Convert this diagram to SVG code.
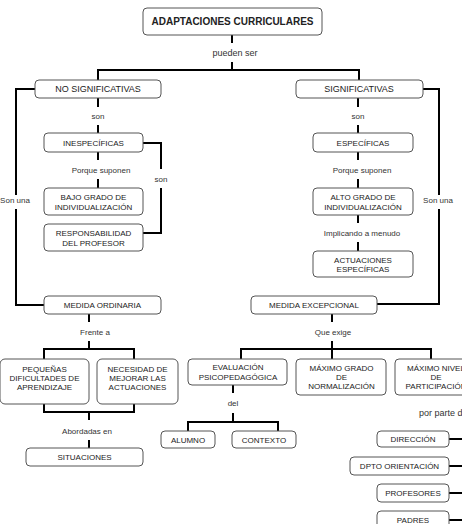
<svg xmlns="http://www.w3.org/2000/svg" width="462" height="524" viewBox="0 0 462 524">
<style>
.b{fill:#fff;stroke:#555;stroke-width:1}
.t{font-family:"Liberation Sans",Arial,sans-serif;font-size:8px;fill:#222;text-anchor:middle;dominant-baseline:central}
.l{font-family:"Liberation Sans",Arial,sans-serif;font-size:8px;fill:#333;text-anchor:middle;dominant-baseline:central}
.c{fill:none;stroke:#000;stroke-width:2}
</style>
<rect width="462" height="524" fill="#fff"/>
<g id="connectors" class="c">
<path d="M232 35V43M232 62V70M98 80V70H359V80"/>
<path d="M35 89H16V195M16 209V305H44"/>
<path d="M423 89H439V195M439 209V304H377"/>
<path d="M98 98V107M98 125V133M358 98V107M358 125V133"/>
<path d="M98 152V160M98 179V188"/>
<path d="M143 143H161V169M161 188V233H143"/>
<path d="M358 152V160M358 179V188M358 215V223M358 242V251"/>
<path d="M89 314V322M89 341V349M44 359V349H134V359"/>
<path d="M44 404V412H134V404M89 412V420M89 440V448"/>
<path d="M332 314V322M332 341V359M241 359V349H431V359"/>
<path d="M233 385V393M233 413V422M188 431V422H278V431"/>
<path d="M449 439H462M449 466H462M449 493H462M449 520H462"/>
</g>
<g id="labels">
<text class="l" x="235" y="53" style="font-size:9px">pueden ser</text>
<text class="l" x="98" y="116">son</text>
<text class="l" x="358" y="116">son</text>
<text class="l" x="161" y="179">son</text>
<text class="l" x="15" y="200">Son una</text>
<text class="l" x="438" y="200">Son una</text>
<text class="l" x="101" y="170">Porque suponen</text>
<text class="l" x="362" y="170">Porque suponen</text>
<text class="l" x="362" y="233">Implicando a menudo</text>
<text class="l" x="95" y="332">Frente a</text>
<text class="l" x="333" y="332">Que exige</text>
<text class="l" x="87" y="431">Abordadas en</text>
<text class="l" x="233" y="403">del</text>
<text class="l" x="419" y="413" style="font-size:9px;text-anchor:start">por parte de</text>
</g>
<g id="n-adaptaciones"><rect class="b" x="143" y="8" width="179" height="27" rx="4"/><text class="t" x="232.5" y="21.5" style="font-size:10px;font-weight:bold">ADAPTACIONES CURRICULARES</text></g>
<g id="n-nosig"><rect class="b" x="35" y="80" width="126" height="18" rx="4"/><text class="t" x="98" y="89" style="font-size:9px">NO SIGNIFICATIVAS</text></g>
<g id="n-sig"><rect class="b" x="296" y="80" width="127" height="18" rx="4"/><text class="t" x="359" y="89" style="font-size:9px">SIGNIFICATIVAS</text></g>
<g id="n-inesp"><rect class="b" x="44" y="133" width="99" height="19" rx="4"/><text class="t" x="93.5" y="143">INESPECÍFICAS</text></g>
<g id="n-bajo"><rect class="b" x="44" y="188" width="99" height="27" rx="4"/><text class="t" x="93.5" y="197">BAJO GRADO DE</text><text class="t" x="93.5" y="207">INDIVIDUALIZACIÓN</text></g>
<g id="n-resp"><rect class="b" x="44" y="224" width="99" height="27" rx="4"/><text class="t" x="93.5" y="233">RESPONSABILIDAD</text><text class="t" x="93.5" y="243">DEL PROFESOR</text></g>
<g id="n-esp"><rect class="b" x="313" y="133" width="100" height="19" rx="4"/><text class="t" x="363" y="143">ESPECÍFICAS</text></g>
<g id="n-alto"><rect class="b" x="313" y="188" width="100" height="27" rx="4"/><text class="t" x="363" y="197">ALTO GRADO DE</text><text class="t" x="363" y="207">INDIVIDUALIZACIÓN</text></g>
<g id="n-actesp"><rect class="b" x="313" y="251" width="100" height="26" rx="4"/><text class="t" x="363" y="260">ACTUACIONES</text><text class="t" x="363" y="269">ESPECÍFICAS</text></g>
<g id="n-ordinaria"><rect class="b" x="44" y="296" width="117" height="18" rx="4"/><text class="t" x="102.5" y="305">MEDIDA ORDINARIA</text></g>
<g id="n-excepcional"><rect class="b" x="251" y="296" width="126" height="18" rx="4"/><text class="t" x="314" y="305">MEDIDA EXCEPCIONAL</text></g>
<g id="n-pequenas"><rect class="b" x="0" y="359" width="89" height="45" rx="5"/><text class="t" x="44.5" y="369.5">PEQUEÑAS</text><text class="t" x="44.5" y="378.5">DIFICULTADES DE</text><text class="t" x="44.5" y="387.5">APRENDIZAJE</text></g>
<g id="n-necesidad"><rect class="b" x="97" y="359" width="81" height="45" rx="5"/><text class="t" x="137.5" y="369.5">NECESIDAD DE</text><text class="t" x="137.5" y="378.5">MEJORAR LAS</text><text class="t" x="137.5" y="387.5">ACTUACIONES</text></g>
<g id="n-situaciones"><rect class="b" x="26" y="448" width="117" height="18" rx="4"/><text class="t" x="84.5" y="457.5">SITUACIONES</text></g>
<g id="n-evaluacion"><rect class="b" x="188" y="359" width="99" height="26" rx="4"/><text class="t" x="238" y="367.5">EVALUACIÓN</text><text class="t" x="238" y="377">PSICOPEDAGÓGICA</text></g>
<g id="n-maxgrado"><rect class="b" x="296" y="359" width="90" height="36" rx="4"/><text class="t" x="341.5" y="368">MÁXIMO GRADO</text><text class="t" x="341.5" y="377">DE</text><text class="t" x="341.5" y="386">NORMALIZACIÓN</text></g>
<g id="n-maxnivel"><rect class="b" x="395" y="359" width="90" height="36" rx="4"/><text class="t" x="436" y="368">MÁXIMO NIVEL</text><text class="t" x="436" y="377">DE</text><text class="t" x="436" y="386">PARTICIPACIÓN</text></g>
<g id="n-alumno"><rect class="b" x="161" y="431" width="54" height="17" rx="4"/><text class="t" x="188" y="440">ALUMNO</text></g>
<g id="n-contexto"><rect class="b" x="232" y="431" width="64" height="17" rx="4"/><text class="t" x="264" y="440">CONTEXTO</text></g>
<g id="n-direccion"><rect class="b" x="377" y="431" width="72" height="16" rx="4"/><text class="t" x="413" y="439.5">DIRECCIÓN</text></g>
<g id="n-dpto"><rect class="b" x="350" y="457" width="99" height="18" rx="4"/><text class="t" x="399.5" y="466">DPTO ORIENTACIÓN</text></g>
<g id="n-profesores"><rect class="b" x="377" y="484" width="72" height="18" rx="4"/><text class="t" x="413" y="493">PROFESORES</text></g>
<g id="n-padres"><rect class="b" x="377" y="511" width="72" height="18" rx="4"/><text class="t" x="413" y="520">PADRES</text></g>
</svg>
